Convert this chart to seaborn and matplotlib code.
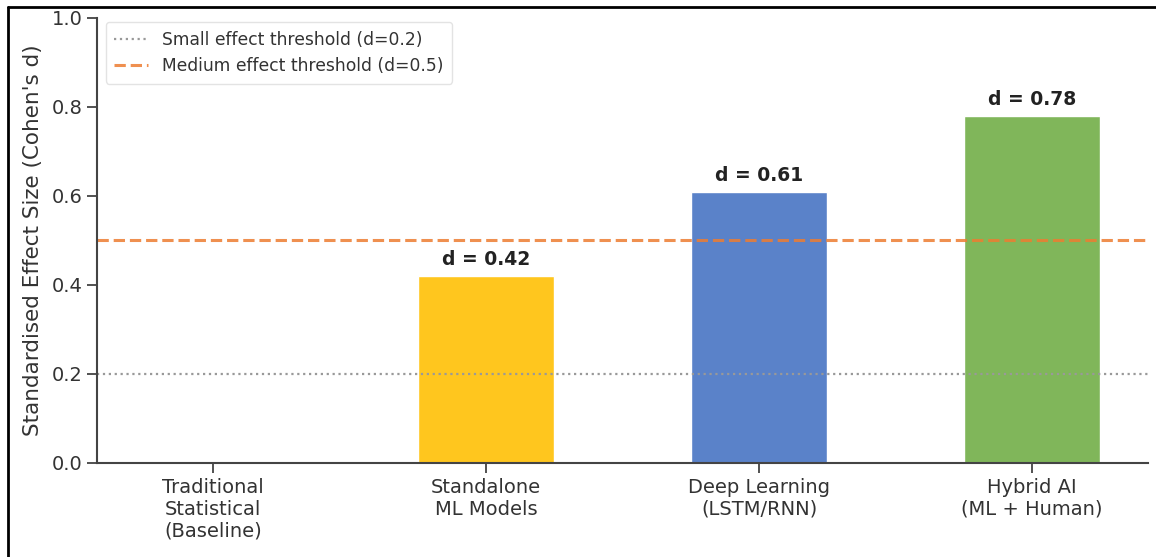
import matplotlib
matplotlib.use("Agg")
import matplotlib.pyplot as plt
import seaborn as sns
import pandas as pd
from matplotlib.lines import Line2D

# DATA
categories = [
    "Traditional\nStatistical\n(Baseline)",
    "Standalone\nML Models",
    "Deep Learning\n(LSTM/RNN)",
    "Hybrid AI\n(ML + Human)",
]
effect_sizes = [0.0, 0.42, 0.61, 0.78]
bar_colors = ["#BBBBBB", "#FFC61E", "#5A82C9", "#80B65A"]
small_threshold = 0.2
medium_threshold = 0.5

df = pd.DataFrame({"approach": categories, "d": effect_sizes})

sns.set_style("ticks")
plt.rcParams["font.family"] = ["DejaVu Sans"]

fig = plt.figure(figsize=(11.56, 5.57), dpi=100)
ax = fig.add_axes([0.0839, 0.1688, 0.9092, 0.7989])

sns.barplot(
    data=df,
    x="approach",
    y="d",
    hue="approach",
    palette=bar_colors,
    width=0.5,
    legend=False,
    saturation=1,
    ax=ax,
)

ax.axhline(small_threshold, color="#999999", linestyle=":", linewidth=1.6,
           label="Small effect threshold (d=0.2)")
ax.axhline(medium_threshold, color="#ED7D31", alpha=0.85, linestyle="--",
           linewidth=2.2, label="Medium effect threshold (d=0.5)")

# value labels (baseline has none)
for i, v in enumerate(effect_sizes):
    if v > 0:
        ax.text(i, v + 0.015, f"d = {v:.2f}", ha="center", va="bottom",
                fontsize=13.5, fontweight="bold", color="#222222")

ax.set_xlim(-0.425, 3.425)
ax.set_ylim(0, 1.0)
ax.set_yticks([0.0, 0.2, 0.4, 0.6, 0.8, 1.0])
ax.set_xlabel("")
ax.set_ylabel("Standardised Effect Size (Cohen's d)", fontsize=15.5,
              color="#333333", labelpad=6)
ax.tick_params(axis="both", labelsize=14, colors="#333333", length=7, width=1.2)
for s in ["left", "bottom"]:
    ax.spines[s].set_color("#444444")
    ax.spines[s].set_linewidth(1.5)
sns.despine(ax=ax)

leg = ax.legend(loc="upper left", fontsize=12.3, frameon=True, handlelength=2.0,
                borderpad=0.5, bbox_to_anchor=(0.0, 1.01))
leg.get_frame().set_edgecolor("#DDDDDD")
for t in leg.get_texts():
    t.set_color("#333333")

# screenshot frame (left and top edges)
fig.add_artist(Line2D([0.0065, 0.0065], [0.0, 0.988], transform=fig.transFigure,
                      color="black", linewidth=2))
fig.add_artist(Line2D([0.0065, 1.0], [0.988, 0.988], transform=fig.transFigure,
                      color="black", linewidth=2))

fig.savefig("out.png", dpi=100)
